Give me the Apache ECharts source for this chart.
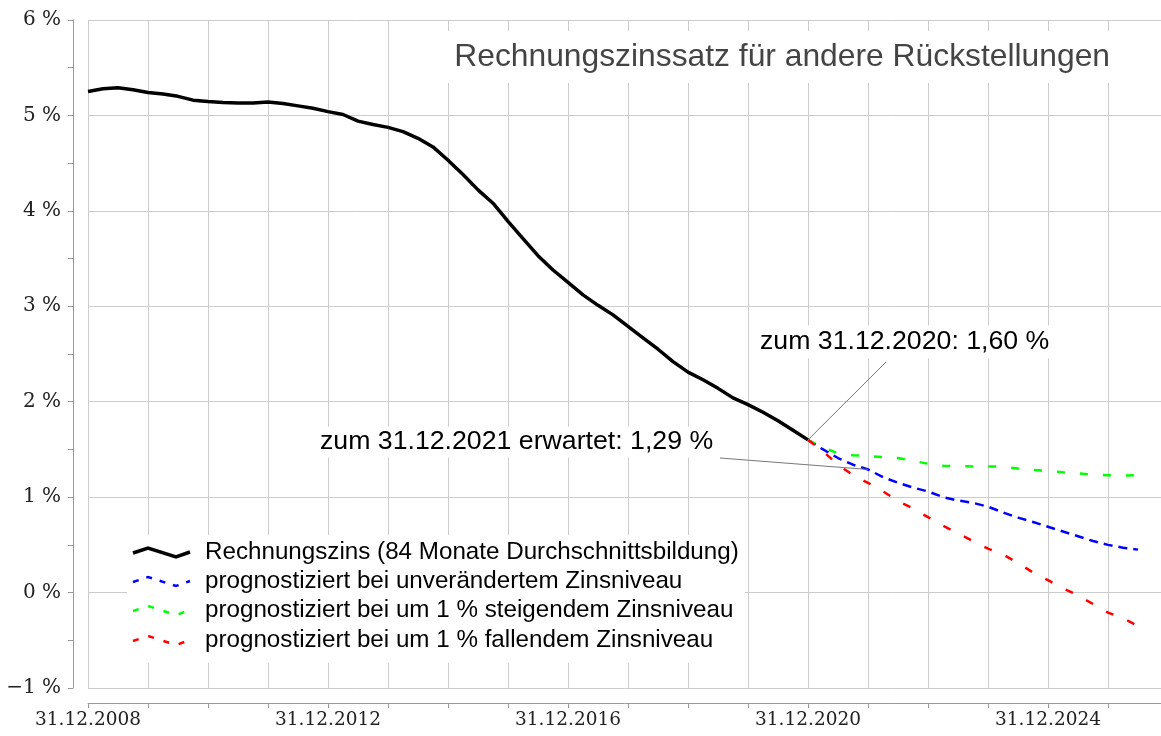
<!DOCTYPE html>
<html>
<head>
<meta charset="UTF-8">
<script src="https://cdn.jsdelivr.net/npm/echarts@6/dist/echarts.min.js"></script>
<style>
	html, body { margin: 0; padding: 0; background: #fff; }
	#chart { width: 1161px; height: 736px; }
</style>
</head>
<body>
<div id="chart"></div>
<script>
// x value = year of the 31.12. date (2008 = 31.12.2008); points are quarterly
var histStart = 2008;
var histRate = [
	5.25, 5.28, 5.29, 5.27, 5.24, 5.225, 5.20, 5.16,
	5.145, 5.135, 5.13, 5.13, 5.14, 5.125, 5.10, 5.075,
	5.04, 5.01, 4.94, 4.905, 4.875, 4.83, 4.76, 4.67,
	4.53, 4.38, 4.22, 4.08, 3.89, 3.71, 3.53, 3.38,
	3.25, 3.12, 3.01, 2.91, 2.79, 2.67, 2.55, 2.42,
	2.31, 2.23, 2.14, 2.04, 1.97, 1.89, 1.80, 1.70,
	1.60
];
var fcStart = 2020;
var fcBlue = [1.60, 1.50, 1.41, 1.34, 1.29, 1.21, 1.15, 1.10, 1.06, 1.00, 0.965, 0.94,
	0.90, 0.84, 0.785, 0.74, 0.69, 0.64, 0.59, 0.54, 0.50, 0.47, 0.45];
var fcGreen = [1.60, 1.52, 1.46, 1.44, 1.43, 1.42, 1.41, 1.38, 1.35, 1.33, 1.325, 1.32,
	1.32, 1.32, 1.30, 1.285, 1.275, 1.26, 1.25, 1.235, 1.23, 1.225, 1.23];
var fcRed = [1.60, 1.48, 1.34, 1.23, 1.15, 1.06, 0.96, 0.88, 0.79, 0.70, 0.62, 0.54,
	0.46, 0.40, 0.31, 0.21, 0.13, 0.045, -0.03, -0.12, -0.21, -0.27, -0.35];

var names = [
	'Rechnungszins (84 Monate Durchschnittsbildung)',
	'prognostiziert bei unverändertem Zinsniveau',
	'prognostiziert bei um 1 % steigendem Zinsniveau',
	'prognostiziert bei um 1 % fallendem Zinsniveau'
];
var colors = ['#000000', '#0000ff', '#00ff00', '#ff0000'];
var titleText = 'Rechnungszinssatz für andere Rückstellungen';
var annoText = ['zum 31.12.2020: 1,60 %', 'zum 31.12.2021 erwartet: 1,29 %'];
var annoX = [2020, 2021];
var annoY = [1.60, 1.29];

function toPairs(start, arr) {
	var out = [];
	for (var i = 0; i < arr.length; i++) out.push([start + i / 4, arr[i]]);
	return out;
}

var sans = 'Liberation Sans, Arial, sans-serif';
var serif = 'DejaVu Serif, serif';
var axisGray = '#9a9a9a';
var gridGray = '#cccccc';

var chart = echarts.init(document.getElementById('chart'));

var option = {
	animation: false,
	backgroundColor: '#fff',
	grid: { left: 88, top: 20, right: 0, bottom: 48 },
	xAxis: {
		type: 'value', min: 2008, max: 2025.883, interval: 1, offset: 15,
		axisLine: { onZero: false, lineStyle: { color: axisGray, width: 1 } },
		axisTick: { show: true, length: 5, lineStyle: { color: axisGray } },
		splitLine: { show: true, lineStyle: { color: gridGray, width: 1 } },
		axisLabel: {
			fontFamily: serif, fontSize: 18.5, color: '#222', margin: 8,
			showMaxLabel: false,
			formatter: function (v) {
				return (Math.abs(v - 2008) % 4 === 0) ? '31.12.' + v : '';
			}
		}
	},
	yAxis: {
		type: 'value', min: -1, max: 6, interval: 1, offset: 15,
		axisLine: { show: true, onZero: false, lineStyle: { color: axisGray, width: 1 } },
		axisTick: { show: true, length: 5, lineStyle: { color: axisGray } },
		minorTick: { show: true, splitNumber: 2, length: 5, lineStyle: { color: axisGray } },
		splitLine: { show: true, lineStyle: { color: gridGray, width: 1 } },
		axisLabel: {
			fontFamily: serif, fontSize: 20, color: '#222', margin: 12,
			formatter: function (v) {
				return (v < 0 ? '\u2212' + Math.abs(v) : v) + ' %';
			}
		}
	},
	series: [
		{ name: names[0], type: 'line', data: toPairs(histStart, histRate), showSymbol: false,
			lineStyle: { color: colors[0], width: 3.5 }, z: 3 },
		{ name: names[1], type: 'line', data: toPairs(fcStart, fcBlue), showSymbol: false,
			lineStyle: { color: colors[1], width: 2.5, type: [9, 6] }, z: 4 },
		{ name: names[2], type: 'line', data: toPairs(fcStart, fcGreen), showSymbol: false,
			lineStyle: { color: colors[2], width: 2.5, type: [8, 15] }, z: 4 },
		{ name: names[3], type: 'line', data: toPairs(fcStart, fcRed), showSymbol: false,
			lineStyle: { color: colors[3], width: 2.5, type: [8, 15] }, z: 4 }
	]
};
chart.setOption(option);

// annotations, leader lines and legend box
var g = [];
g.push({ type: 'text', x: 1120, y: 57, z: 1,
	style: { text: titleText, align: 'right', verticalAlign: 'middle', font: '31.8px ' + sans,
		fill: '#444', backgroundColor: '#fff', padding: [10, 10] } });

var a1 = chart.convertToPixel({ gridIndex: 0 }, [annoX[0], annoY[0]]);
var a2 = chart.convertToPixel({ gridIndex: 0 }, [annoX[1], annoY[1]]);
g.push({ type: 'line', z: 5, shape: { x1: a1[0], y1: a1[1], x2: 886, y2: 362 },
	style: { stroke: '#777', lineWidth: 1 } });
g.push({ type: 'line', z: 5, shape: { x1: 720, y1: 458, x2: a2[0], y2: a2[1] },
	style: { stroke: '#777', lineWidth: 1 } });
g.push({ type: 'text', x: 755, y: 342, z: 1,
	style: { text: annoText[0], align: 'left', verticalAlign: 'middle', font: '26.7px ' + sans,
		fill: '#000', backgroundColor: '#fff', padding: [3, 5] } });
g.push({ type: 'text', x: 315, y: 442, z: 1,
	style: { text: annoText[1], align: 'left', verticalAlign: 'middle', font: '26.7px ' + sans,
		fill: '#000', backgroundColor: '#fff', padding: [2, 5] } });

g.push({ type: 'rect', z: 1, shape: { x: 127, y: 535, width: 618, height: 128 },
	style: { fill: '#fff' } });
var rowY = [552, 581, 610, 640];
var dashes = [null, [6, 8], [6, 10], [6, 10]];
for (var i = 0; i < names.length; i++) {
	var cy = rowY[i];
	g.push({ type: 'polyline', z: 6,
		shape: { points: [[133, cy + 1], [148, cy - 4], [176, cy + 5], [190, cy]] },
		style: { stroke: colors[i], lineWidth: i === 0 ? 3.5 : 2.5, fill: null,
			lineDash: dashes[i] } });
	g.push({ type: 'text', x: 205, y: cy, z: 6,
		style: { text: names[i], align: 'left', verticalAlign: 'middle', font: '24.2px ' + sans,
			fill: '#000' } });
}
chart.setOption({ graphic: g });
</script>
</body>
</html>
